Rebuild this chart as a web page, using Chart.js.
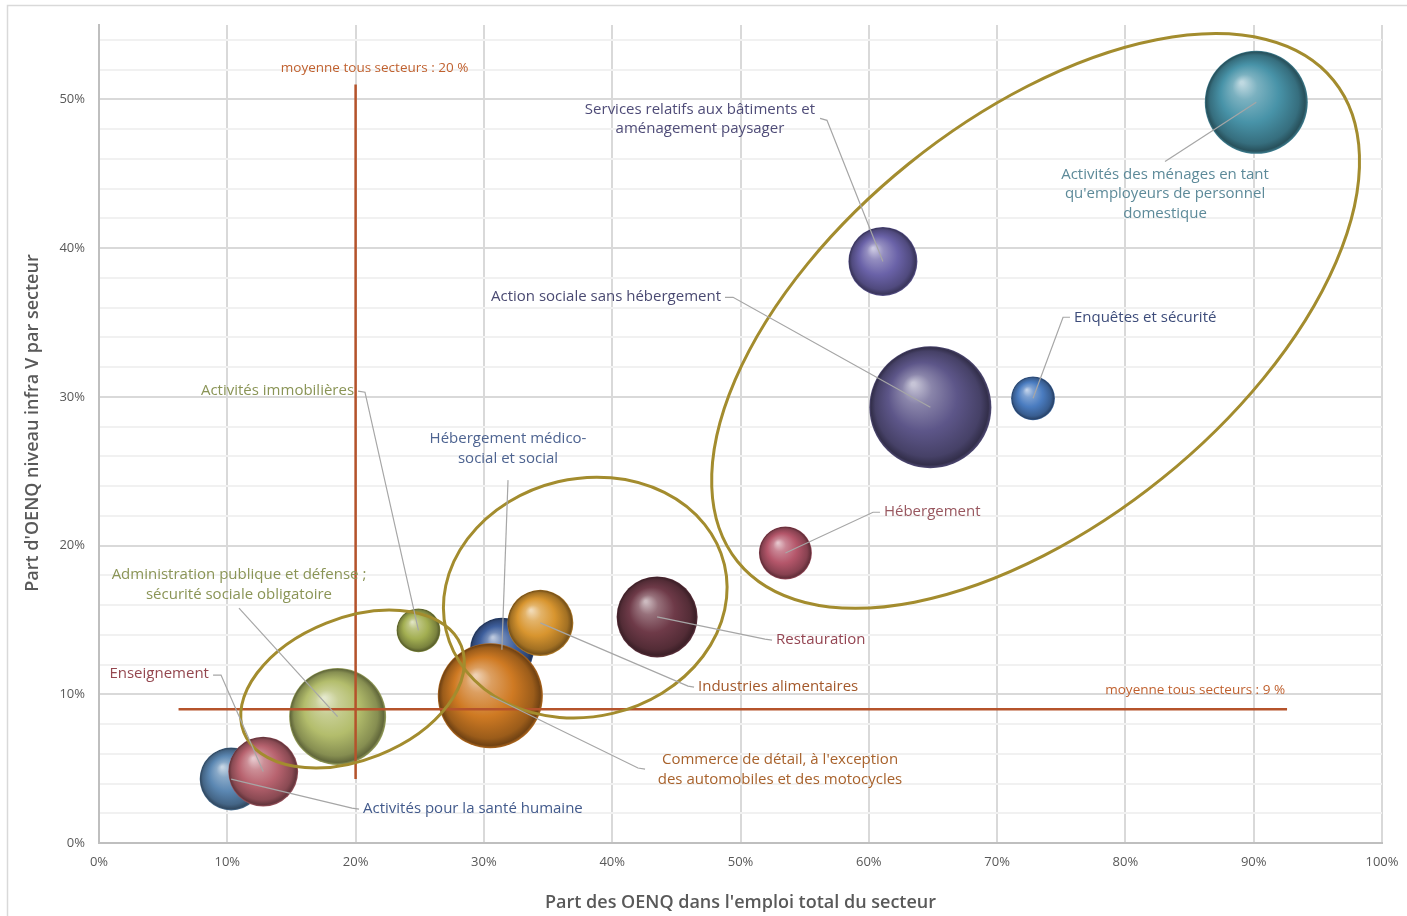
<!DOCTYPE html>
<html lang="fr">
<head>
<meta charset="utf-8">
<title>Part des OENQ et niveau infra V par secteur</title>
<script src="https://cdn.jsdelivr.net/npm/chart.js@4.4.1/dist/chart.umd.min.js"></script>
<style>
  html, body { margin: 0; padding: 0; background: #fff; }
  #wrap { position: relative; width: 1407px; height: 916px; }
</style>
</head>
<body>
<div id="wrap"><canvas id="bubbleChart" width="1407" height="916"></canvas></div>
<script>
// --- DONNÉES (ordre = ordre de dessin des bulles) ---
const sectorNames = [
    'Activités pour la santé humaine',
    'Enseignement',
    'Administration publique et défense ;\nsécurité sociale obligatoire',
    'Activités immobilières',
    'Hébergement médico-\nsocial et social',
    'Industries alimentaires',
    'Commerce de détail, à l\'exception\ndes automobiles et des motocycles',
    'Restauration',
    'Hébergement',
    'Action sociale sans hébergement',
    'Enquêtes et sécurité',
    'Services relatifs aux bâtiments et\naménagement paysager',
    'Activités des ménages en tant\nqu\'employeurs de personnel\ndomestique'
];
// Part des OENQ dans l'emploi total du secteur (%)
const shareOENQ = [10.3, 12.8, 18.6, 24.9, 31.4, 34.4, 30.5, 43.5, 53.5, 64.8, 72.8, 61.1, 90.2];
// Part d'OENQ de niveau infra V (%)
const shareInfraV = [4.3, 4.8, 8.5, 14.3, 13.0, 14.8, 9.9, 15.2, 19.5, 29.3, 29.9, 39.1, 49.8];
// Poids relatif du secteur (aire de la bulle)
const sectorSize = [99, 122, 235, 48, 102, 109, 276, 164, 70, 372, 48, 119, 265];

const averageOENQ = 20;   // moyenne tous secteurs, axe horizontal
const averageInfraV = 9;  // moyenne tous secteurs, axe vertical

const xTickLabels = [0, 10, 20, 30, 40, 50, 60, 70, 80, 90, 100];
const yTickLabels = [0, 10, 20, 30, 40, 50];

// --- COULEURS ---
const bubbleColors = [
    '#5b87b2', '#b8636f', '#b3bd6c', '#a3af52', '#3e5f9d', '#d8952f', '#cf7a23',
    '#6e3a48', '#b4566a', '#5d5689', '#4a7cc0', '#6a62a8', '#4893a8'
];
const labelColors = [
    '#41598b', '#94474f', '#8a9456', '#8a9456', '#4e6491', '#a3582a', '#a8622c',
    '#944552', '#98575f', '#4a4a72', '#3d4c7a', '#4f4c78', '#5d8a99'
];

// --- MISE EN PAGE DES ÉTIQUETTES (unités des axes) ---
// t: position du texte, align: alignement, path: amorce du trait de rappel
const labelLayout = [
    { t: [20.58, 2.28], align: 'left', path: [[20.27, 2.28], [19.72, 2.35]] },
    { t: [8.57, 11.36], align: 'right', path: [[8.89, 11.29], [9.51, 11.29]] },
    { t: [10.91, 18.01], align: 'center', path: [[10.91, 15.79]] },
    { t: [19.88, 30.38], align: 'right', path: [[20.19, 30.38], [20.73, 30.31]] },
    { t: [31.88, 27.15], align: 'center', path: [[31.88, 24.40]] },
    { t: [46.69, 10.48], align: 'left', path: [[46.38, 10.48], [45.91, 10.55]] },
    { t: [53.08, 5.58], align: 'center', path: [[42.56, 4.97], [42.01, 5.04]] },
    { t: [52.77, 13.64], align: 'left', path: [[52.46, 13.64], [51.91, 13.71]] },
    { t: [61.18, 22.24], align: 'left', path: [[60.87, 22.24], [60.33, 22.24]] },
    { t: [48.48, 36.76], align: 'right', path: [[48.79, 36.69], [49.42, 36.69]] },
    { t: [75.99, 35.35], align: 'left', path: [[75.68, 35.35], [75.14, 35.35]] },
    { t: [46.84, 49.33], align: 'center', path: [[56.20, 48.72], [56.74, 48.59]] },
    { t: [83.09, 44.96], align: 'center', path: [[83.09, 45.83]] }
];

// Ellipses de regroupement : centre en unités des axes, rayons en pixels
const groupEllipses = [
    { cx: 73.0, cy: 35.1, rx: 383, ry: 202, rot: -38.9 },
    { cx: 37.9, cy: 16.5, rx: 143, ry: 119, rot: -13.3 },
    { cx: 19.76, cy: 10.35, rx: 117, ry: 71, rot: -21.7 }
];
// étendue des droites de moyenne
const avgVerticalSpan = [4.3, 51];
const avgHorizontalSpan = [6.2, 92.6];

const MAX_RADIUS = 61;
const FONT = '"Open Sans", "Noto Sans", sans-serif';

function hexToRgb(hex) {
    const n = parseInt(hex.slice(1), 16);
    return [(n >> 16) & 255, (n >> 8) & 255, n & 255];
}

// amt > 0 : vers le blanc, amt < 0 : vers le noir
function shade(hex, amt) {
    const target = amt > 0 ? 255 : 0;
    const p = Math.abs(amt);
    return 'rgb(' + hexToRgb(hex).map(v => Math.round(v + (target - v) * p)).join(',') + ')';
}

// dégradé radial pour l'effet sphère
function sphereFill(context) {
    const base = bubbleColors[context.dataIndex] || '#888888';
    const raw = context.raw;
    if (context.type !== 'data' || !raw) return base;
    const chart = context.chart;
    const cx = chart.scales.x.getPixelForValue(raw.x);
    const cy = chart.scales.y.getPixelForValue(raw.y);
    const r = raw.r;
    // les échelles ne sont pas encore calées lors du premier passage
    if (![cx, cy, r].every(Number.isFinite)) return base;
    const g = chart.ctx.createRadialGradient(cx - r * 0.28, cy - r * 0.38, r * 0.03, cx, cy, r);
    g.addColorStop(0, shade(base, 0.65));
    g.addColorStop(0.22, shade(base, 0.28));
    g.addColorStop(0.55, base);
    g.addColorStop(0.86, shade(base, -0.25));
    g.addColorStop(0.96, shade(base, -0.45));
    g.addColorStop(1, shade(base, -0.15));
    return g;
}

const overlayPlugin = {
    id: 'overlay',
    beforeDraw(chart) {
        const ctx = chart.ctx;
        ctx.save();
        ctx.strokeStyle = '#d9d9d9';
        ctx.lineWidth = 1.5;
        ctx.beginPath();
        ctx.moveTo(7.5, chart.height + 5);
        ctx.lineTo(7.5, 5.5);
        ctx.lineTo(chart.width + 5, 5.5);
        ctx.stroke();
        ctx.restore();
    },
    afterDatasetsDraw(chart) {
        const ctx = chart.ctx;
        const xs = chart.scales.x, ys = chart.scales.y;
        const points = chart.getDatasetMeta(0).data;
        ctx.save();

        // droites de moyenne
        ctx.strokeStyle = '#b5532b';
        ctx.lineWidth = 2.5;
        const vx = xs.getPixelForValue(averageOENQ);
        const hy = ys.getPixelForValue(averageInfraV);
        ctx.beginPath();
        ctx.moveTo(vx, ys.getPixelForValue(avgVerticalSpan[1]));
        ctx.lineTo(vx, ys.getPixelForValue(avgVerticalSpan[0]));
        ctx.moveTo(xs.getPixelForValue(avgHorizontalSpan[0]), hy);
        ctx.lineTo(xs.getPixelForValue(avgHorizontalSpan[1]), hy);
        ctx.stroke();

        ctx.font = '13.5px ' + FONT;
        ctx.fillStyle = '#c0612f';
        ctx.textBaseline = 'middle';
        ctx.textAlign = 'center';
        ctx.fillText('moyenne tous secteurs : ' + averageOENQ + ' %', vx + 19,
            ys.getPixelForValue(avgVerticalSpan[1]) - 16);
        ctx.textAlign = 'right';
        ctx.fillText('moyenne tous secteurs : ' + averageInfraV + ' %',
            xs.getPixelForValue(avgHorizontalSpan[1]) - 2, hy - 19);

        // ellipses de regroupement
        ctx.strokeStyle = '#a38c2e';
        ctx.lineWidth = 3;
        groupEllipses.forEach(e => {
            ctx.beginPath();
            ctx.ellipse(xs.getPixelForValue(e.cx), ys.getPixelForValue(e.cy),
                e.rx, e.ry, e.rot * Math.PI / 180, 0, Math.PI * 2);
            ctx.stroke();
        });

        // traits de rappel et étiquettes
        ctx.font = '15px ' + FONT;
        ctx.textBaseline = 'middle';
        labelLayout.forEach((lab, i) => {
            const pt = points[i];
            ctx.strokeStyle = '#a6a6a6';
            ctx.lineWidth = 1.2;
            ctx.beginPath();
            lab.path.forEach((p, k) => {
                const px = xs.getPixelForValue(p[0]);
                const py = ys.getPixelForValue(p[1]);
                if (k === 0) ctx.moveTo(px, py); else ctx.lineTo(px, py);
            });
            ctx.lineTo(pt.x, pt.y);
            ctx.stroke();

            ctx.fillStyle = labelColors[i];
            ctx.textAlign = lab.align;
            const tx = xs.getPixelForValue(lab.t[0]);
            const ty = ys.getPixelForValue(lab.t[1]);
            sectorNames[i].split('\n').forEach((line, j) => {
                ctx.fillText(line, tx, ty + j * 19.5);
            });
        });
        ctx.restore();
    },
    afterDraw(chart) {
        const ctx = chart.ctx;
        const area = chart.chartArea;
        ctx.save();
        ctx.fillStyle = '#595959';
        ctx.font = '600 18px ' + FONT;
        ctx.textAlign = 'center';
        ctx.textBaseline = 'middle';
        ctx.fillText('Part des OENQ dans l\'emploi total du secteur', (area.left + area.right) / 2, area.bottom + 60);
        ctx.translate(33, area.top + 398);
        ctx.rotate(-Math.PI / 2);
        ctx.fillText('Part d\'OENQ niveau infra V par secteur', 0, 0);
        ctx.restore();
    }
};

function buildChart() {
    const maxSize = Math.max(...sectorSize);
    const points = shareOENQ.map((x, i) => ({
        x: x,
        y: shareInfraV[i],
        r: MAX_RADIUS * Math.sqrt(sectorSize[i] / maxSize)
    }));

    new Chart(document.getElementById('bubbleChart'), {
        type: 'bubble',
        data: {
            datasets: [{
                data: points,
                backgroundColor: sphereFill,
                borderWidth: 0,
                hoverBorderWidth: 0,
                clip: false
            }]
        },
        options: {
            responsive: false,
            animation: false,
            events: [],
            layout: { autoPadding: false, padding: { top: 25, right: 25, left: 0, bottom: 0 } },
            plugins: { legend: { display: false }, tooltip: { enabled: false } },
            scales: {
                x: {
                    type: 'linear',
                    min: 0,
                    max: 100,
                    afterFit: s => {
                        s.height = 73;
                        // le libellé « 100% » déborde dans la marge droite
                        s.paddingLeft = 0;
                        s.paddingRight = 0;
                    },
                    border: { color: '#bfbfbf', width: 2 },
                    grid: { color: '#d9d9d9', lineWidth: 2, drawTicks: false },
                    ticks: {
                        stepSize: 10,
                        padding: 11,
                        color: '#595959',
                        font: { family: FONT, size: 13 },
                        callback: v => xTickLabels.includes(v) ? v + '%' : ''
                    }
                },
                y: {
                    type: 'linear',
                    min: 0,
                    max: 55,
                    afterFit: s => { s.width = 99; },
                    border: { color: '#bfbfbf', width: 2 },
                    grid: {
                        drawTicks: false,
                        lineWidth: 2,
                        color: c => (c.tick && c.tick.value % 10 === 0) ? '#d9d9d9' : '#f1f1f1'
                    },
                    ticks: {
                        stepSize: 2,
                        includeBounds: false,
                        autoSkip: false,
                        padding: 14,
                        color: '#595959',
                        font: { family: FONT, size: 13 },
                        callback: v => yTickLabels.includes(v) ? v + '%' : ''
                    }
                }
            }
        },
        plugins: [overlayPlugin]
    });
}

if (document.fonts && document.fonts.load) {
    Promise.all([
        document.fonts.load('15px "Open Sans"'),
        document.fonts.load('600 18px "Open Sans"')
    ]).then(buildChart, buildChart);
} else {
    buildChart();
}
</script>
</body>
</html>
